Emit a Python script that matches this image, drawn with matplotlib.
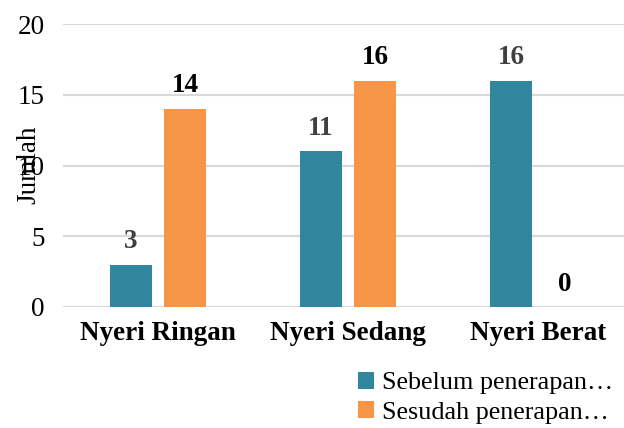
import numpy as np
import matplotlib
matplotlib.use("Agg")
import matplotlib.pyplot as plt

# data
categories = ["Nyeri Ringan", "Nyeri Sedang", "Nyeri Berat"]
sebelum = [3, 11, 16]
sesudah = [14, 16, 0]
series_names = ["Sebelum penerapan\u2026", "Sesudah penerapan\u2026"]

# style
colTeal = "#31859C"
colOrange = "#F79646"
gridCol = "#D9D9D9"
fontSize = 19.5
legendSize = 18.8
barWidth = 0.221
offset = 0.142

plt.rcParams["font.family"] = ["Liberation Serif", "DejaVu Serif"]

fig = plt.figure(figsize=(6.24, 4.28), dpi=100)
ax = fig.add_axes([63/624, 121/428, 561/624, 283/428])

x = np.arange(len(categories))
b1 = ax.bar(x - offset, sebelum, barWidth, color=colTeal, label=series_names[0], zorder=3)
b2 = ax.bar(x + offset, sesudah, barWidth, color=colOrange, label=series_names[1], zorder=3)

for rect, v in zip(b1, sebelum):
    ax.annotate(str(v), (rect.get_x() + rect.get_width()/2, v), xytext=(0, 7.5),
                textcoords="offset points", ha="center", va="bottom",
                fontsize=fontSize, fontweight="bold", color="#404040")
for rect, v in zip(b2, sesudah):
    ax.annotate(str(v), (rect.get_x() + rect.get_width()/2, v), xytext=(0, 7.5),
                textcoords="offset points", ha="center", va="bottom",
                fontsize=fontSize, fontweight="bold", color="black")

ax.set_xlim(-0.5, -0.5 + 561/190)
ax.set_ylim(0, 20)
ax.set_yticks([0, 5, 10, 15, 20])
ax.set_xticks(x)
ax.set_xticklabels(categories, fontsize=fontSize, fontweight="bold")
ax.tick_params(axis="y", labelsize=fontSize, length=0, pad=13)
ax.tick_params(axis="x", length=0, pad=10)
ax.grid(axis="y", color=gridCol, linewidth=1.5, zorder=0)
for s in ax.spines.values():
    s.set_visible(False)

fig.text(29/624, 1 - 165/428, "Jumlah", rotation=90, ha="center", va="center",
         fontsize=fontSize)

fig.legend(handles=[b1, b2], labels=series_names, loc="upper left",
           bbox_to_anchor=(358/624, 1 - 372/428), frameon=False,
           fontsize=legendSize, handlelength=0.6, handleheight=0.6,
           handletextpad=0.3, labelspacing=0.25, borderaxespad=0, borderpad=0)

fig.savefig("out.png", dpi=100)
